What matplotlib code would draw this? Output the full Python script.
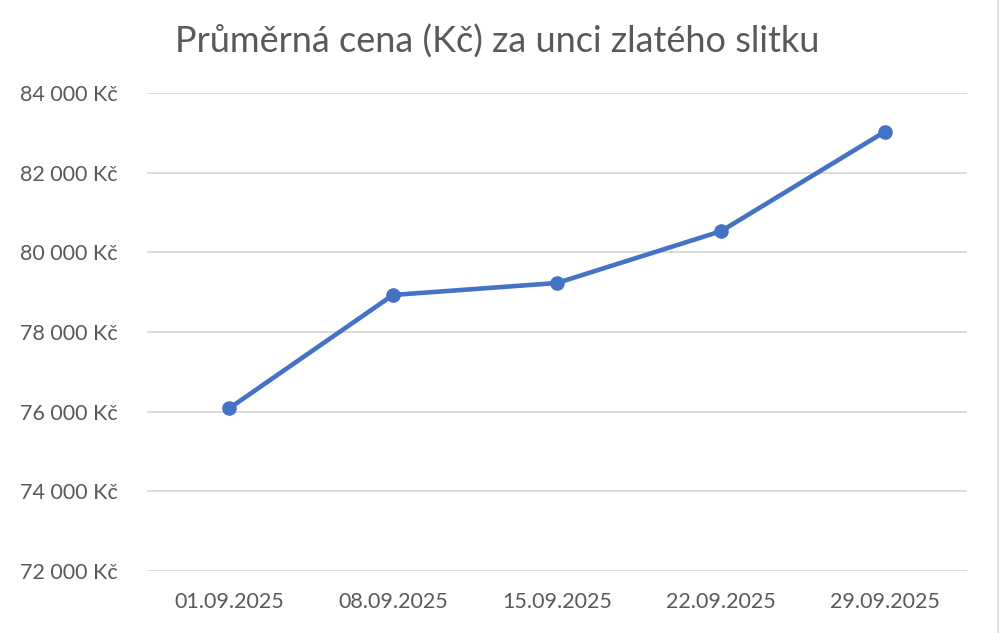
import matplotlib
matplotlib.use("Agg")
import matplotlib.pyplot as plt
from matplotlib.ticker import FuncFormatter, MultipleLocator
from matplotlib.lines import Line2D

dates = ['01.09.2025', '08.09.2025', '15.09.2025', '22.09.2025', '29.09.2025']
prices = [76080, 78930, 79230, 80530, 83030]

title = 'Průměrná cena (Kč) za unci zlatého slitku'

plt.rcParams['font.family'] = ['Lato', 'DejaVu Sans']


def czk_format(y, pos):
    # mezera jako oddelovac tisicu
    return f"{int(y):,}".replace(',', ' ') + ' Kč'


fig = plt.figure(figsize=(10, 6.33), dpi=100)
ax = fig.add_axes([0.147, 1 - 571 / 633, 0.82, (571 - 93) / 633])

x = list(range(len(dates)))
ax.plot(x, prices, color='#4472C4', linewidth=3.3, marker='o', markersize=9.5,
        solid_capstyle='round', zorder=3)

ax.set_xlim(-0.5, len(dates) - 0.5)
ax.set_ylim(72000, 84000)
ax.yaxis.set_major_locator(MultipleLocator(2000))
ax.yaxis.set_major_formatter(FuncFormatter(czk_format))
ax.set_xticks(x)
ax.set_xticklabels(dates)

ax.grid(True, axis='y', color='#D9D9D9', linewidth=1.3)
ax.set_axisbelow(True)
for s in ax.spines.values():
    s.set_visible(False)

ax.tick_params(axis='both', length=0, labelsize=15.5, colors='#595959')
ax.tick_params(axis='y', pad=21)
ax.tick_params(axis='x', pad=15)

fig.text(0.497, 1 - 42 / 633, title, ha='center', va='center',
         fontsize=26, color='#595959')

# tenka seda cara na pravem okraji
fig.add_artist(Line2D([0.998, 0.998], [0, 1], transform=fig.transFigure,
                      color='#D9D9D9', linewidth=1.2))

fig.savefig('out.png', dpi=100)
